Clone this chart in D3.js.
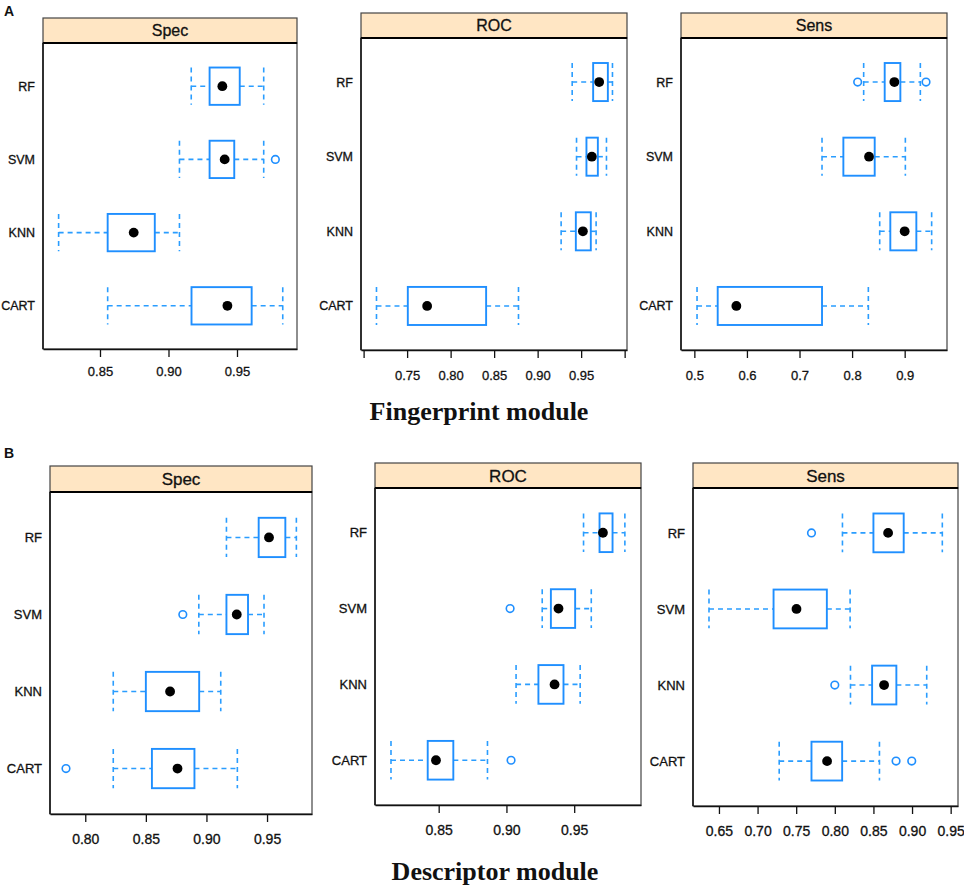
<!DOCTYPE html>
<html>
<head>
<meta charset="utf-8">
<script src="https://cdn.jsdelivr.net/npm/d3@7"></script>
<style>
  html, body { margin: 0; padding: 0; background: #fff; }
  svg { display: block; }
  .tick text { font-family: "Liberation Sans", Arial, sans-serif; fill: #111; stroke: #111; stroke-width: 0.3; }
  .ylab { font-family: "Liberation Sans", Arial, sans-serif; fill: #111; stroke: #111; stroke-width: 0.3; }
  .strip-label { font-family: "Liberation Sans", Arial, sans-serif; fill: #111; stroke: #111; stroke-width: 0.3; }
  .module-title { font-family: "Liberation Serif", "Times New Roman", serif; font-weight: bold; fill: #111; }
  .panel-tag { font-family: "Liberation Sans", Arial, sans-serif; font-weight: bold; fill: #111; }
</style>
</head>
<body>
<svg id="chart" width="964" height="888"></svg>
<script>
// -----------------------------------------------------------------------------
// Data: five-number summaries per model, [lowWhisker, q1, median, q3, highWhisker]
// Row order follows `models` (RF drawn on top).
// -----------------------------------------------------------------------------
const models = ['RF', 'SVM', 'KNN', 'CART'];

// Fingerprint module
const fpSpec = [[0.9166, 0.930, 0.9393, 0.952, 0.9695], [0.908, 0.930, 0.941, 0.948, 0.9695],
                [0.8198, 0.8556, 0.8746, 0.890, 0.908], [0.8556, 0.9168, 0.943, 0.9607, 0.9834]];
const fpSpecOut = [[], [0.978], [], []];
const fpRoc = [[0.9397, 0.9638, 0.9707, 0.9807, 0.986], [0.9447, 0.9561, 0.9623, 0.9692, 0.9791],
               [0.927, 0.9439, 0.952, 0.9611, 0.9672], [0.7148, 0.7508, 0.773, 0.8408, 0.878]];
const fpRocOut = [[], [], [], []];
const fpSens = [[0.822, 0.862, 0.8804, 0.8918, 0.9298], [0.7428, 0.7834, 0.8322, 0.843, 0.9013],
                [0.8525, 0.8727, 0.900, 0.9222, 0.9513], [0.5051, 0.5444, 0.5799, 0.7428, 0.8309]];
const fpSensOut = [[0.8106, 0.9406], [], [], []];

// Descriptor module
const dsSpec = [[0.9165, 0.9431, 0.9516, 0.9651, 0.9742], [0.8937, 0.9165, 0.925, 0.9343, 0.9475],
                [0.8231, 0.850, 0.870, 0.894, 0.9118], [0.8231, 0.855, 0.8761, 0.8901, 0.9255]];
const dsSpecOut = [[], [0.8805], [], [0.7841]];
const dsRoc = [[0.9569, 0.9687, 0.9712, 0.9783, 0.9874], [0.9264, 0.9328, 0.9384, 0.9507, 0.9626],
               [0.9071, 0.9236, 0.9355, 0.9421, 0.9544], [0.8148, 0.8419, 0.848, 0.8608, 0.886]];
const dsRocOut = [[], [0.9027], [], [0.9034]];
const dsSens = [[0.8099, 0.850, 0.869, 0.8892, 0.9392], [0.6371, 0.7207, 0.7504, 0.7897, 0.8198],
                [0.8203, 0.8483, 0.8638, 0.8797, 0.919], [0.728, 0.7698, 0.790, 0.8095, 0.8578]];
const dsSensOut = [[0.7698], [], [0.800], [0.8793, 0.8996]];

// Axis ranges and ticks
const fpSpecDomain = [0.8084, 0.9938];
const fpRocDomain  = [0.697, 1.0027];
const fpSensDomain = [0.4746, 0.9805];
const dsSpecDomain = [0.7709, 0.9871];
const dsRocDomain  = [0.803, 0.9993];
const dsSensDomain = [0.6164, 0.9595];

const fpSpecTicks = [0.85, 0.90, 0.95];
const fpSpecTickLabels = ['0.85', '0.90', '0.95'];
const fpRocTicks = [0.70, 0.75, 0.80, 0.85, 0.90, 0.95, 1.00];
const fpRocTickLabels = ['', '0.75', '0.80', '0.85', '0.90', '0.95', ''];
const fpSensTicks = [0.5, 0.6, 0.7, 0.8, 0.9];
const fpSensTickLabels = ['0.5', '0.6', '0.7', '0.8', '0.9'];
const dsSpecTicks = [0.80, 0.85, 0.90, 0.95];
const dsSpecTickLabels = ['0.80', '0.85', '0.90', '0.95'];
const dsRocTicks = [0.85, 0.90, 0.95];
const dsRocTickLabels = ['0.85', '0.90', '0.95'];
const dsSensTicks = [0.65, 0.70, 0.75, 0.80, 0.85, 0.90, 0.95];
const dsSensTickLabels = ['0.65', '0.70', '0.75', '0.80', '0.85', '0.90', '0.95'];

const metricNames = ['Spec', 'ROC', 'Sens'];
const moduleNames = ['Fingerprint module', 'Descriptor module'];
const panelTags = ['A', 'B'];

// -----------------------------------------------------------------------------
// Layout (pixel boxes of each panel: plot area below a strip)
// -----------------------------------------------------------------------------
const BOX_BLUE = '#1f8fff';
const WHISKER_BLUE = '#2a9dff';
const STRIP_FILL = '#ffe6c4';

const panels = [
  { stats: fpSpec, out: fpSpecOut, domain: fpSpecDomain, ticks: fpSpecTicks, labels: fpSpecTickLabels,
    title: metricNames[0], x0: 43, x1: 297, stripTop: 18, top: 43, bottom: 349, font: 12.5, tickFont: 13, stripFont: 16, pad: 10 },
  { stats: fpRoc, out: fpRocOut, domain: fpRocDomain, ticks: fpRocTicks, labels: fpRocTickLabels,
    title: metricNames[1], x0: 361, x1: 627, stripTop: 13, top: 38, bottom: 350, font: 12.5, tickFont: 13, stripFont: 16, pad: 13 },
  { stats: fpSens, out: fpSensOut, domain: fpSensDomain, ticks: fpSensTicks, labels: fpSensTickLabels,
    title: metricNames[2], x0: 681, x1: 947, stripTop: 13, top: 38, bottom: 350, font: 12.5, tickFont: 13, stripFont: 16, pad: 13 },
  { stats: dsSpec, out: dsSpecOut, domain: dsSpecDomain, ticks: dsSpecTicks, labels: dsSpecTickLabels,
    title: metricNames[0], x0: 50, x1: 312, stripTop: 466, top: 492, bottom: 814, font: 13, tickFont: 14, stripFont: 17, pad: 12 },
  { stats: dsRoc, out: dsRocOut, domain: dsRocDomain, ticks: dsRocTicks, labels: dsRocTickLabels,
    title: metricNames[1], x0: 375, x1: 641, stripTop: 463, top: 488, bottom: 805, font: 13, tickFont: 14, stripFont: 17, pad: 12 },
  { stats: dsSens, out: dsSensOut, domain: dsSensDomain, ticks: dsSensTicks, labels: dsSensTickLabels,
    title: metricNames[2], x0: 693, x1: 958, stripTop: 463, top: 488, bottom: 806, font: 13, tickFont: 14, stripFont: 17, pad: 12 },
];

const svg = d3.select('#chart');

panels.forEach(p => drawPanel(p));

// Panel tags and module titles
svg.append('text').attr('class', 'panel-tag').attr('x', 4).attr('y', 16)
  .attr('font-size', 14).text(panelTags[0]);
svg.append('text').attr('class', 'panel-tag').attr('x', 4).attr('y', 458)
  .attr('font-size', 14).text(panelTags[1]);

svg.append('text').attr('class', 'module-title')
  .attr('x', 479).attr('y', 420).attr('text-anchor', 'middle')
  .attr('font-size', 26).text(moduleNames[0]);
svg.append('text').attr('class', 'module-title')
  .attr('x', 495).attr('y', 880).attr('text-anchor', 'middle')
  .attr('font-size', 26).text(moduleNames[1]);

function drawPanel(p) {
  const g = svg.append('g');
  const x = d3.scaleLinear().domain(p.domain).range([p.x0, p.x1]);
  const y = d3.scalePoint().domain(models).range([p.top, p.bottom]).padding(0.59);
  const half = y.step() * 0.255;

  // strip
  g.append('rect')
    .attr('x', p.x0).attr('y', p.stripTop)
    .attr('width', p.x1 - p.x0).attr('height', p.top - p.stripTop)
    .attr('fill', STRIP_FILL).attr('stroke', '#444').attr('stroke-width', 1.2);
  g.append('text').attr('class', 'strip-label')
    .attr('x', (p.x0 + p.x1) / 2).attr('y', (p.stripTop + p.top) / 2 + p.stripFont * 0.36)
    .attr('text-anchor', 'middle').attr('font-size', p.stripFont).text(p.title);

  // plot frame
  g.append('rect')
    .attr('x', p.x0).attr('y', p.top)
    .attr('width', p.x1 - p.x0).attr('height', p.bottom - p.top)
    .attr('fill', '#fff').attr('stroke', '#444').attr('stroke-width', 1.2);
  g.append('line')
    .attr('x1', p.x0).attr('x2', p.x1).attr('y1', p.top).attr('y2', p.top)
    .attr('stroke', '#000').attr('stroke-width', 2);
  g.append('line')
    .attr('x1', p.x0).attr('x2', p.x0).attr('y1', p.top).attr('y2', p.bottom)
    .attr('stroke', '#111').attr('stroke-width', 1.5);

  // x axis
  const axis = d3.axisBottom(x)
    .tickValues(p.ticks)
    .tickFormat((d, i) => p.labels[i])
    .tickSize(8).tickSizeOuter(0).tickPadding(p.pad);
  const ax = g.append('g').attr('transform', `translate(0,${p.bottom})`).call(axis);
  ax.select('.domain').attr('stroke', '#111').attr('stroke-width', 1.5);
  ax.selectAll('.tick line').attr('stroke', '#111').attr('stroke-width', 1.3);
  ax.selectAll('.tick text').attr('font-size', p.tickFont);

  // y labels
  g.selectAll('text.ylab')
    .data(models)
    .join('text')
    .attr('class', 'ylab')
    .attr('x', p.x0 - 8)
    .attr('y', d => y(d))
    .attr('dy', '0.36em')
    .attr('text-anchor', 'end')
    .attr('font-size', p.font)
    .text(d => d);

  // boxes
  const rows = g.selectAll('g.bw')
    .data(models.map((m, i) => ({ m, s: p.stats[i], o: p.out[i] })))
    .join('g').attr('class', 'bw');

  // whiskers (dashed)
  rows.append('line')
    .attr('x1', d => x(d.s[0])).attr('x2', d => x(d.s[1]))
    .attr('y1', d => y(d.m)).attr('y2', d => y(d.m))
    .attr('stroke', WHISKER_BLUE).attr('stroke-width', 1.6).attr('stroke-dasharray', '5,4');
  rows.append('line')
    .attr('x1', d => x(d.s[3])).attr('x2', d => x(d.s[4]))
    .attr('y1', d => y(d.m)).attr('y2', d => y(d.m))
    .attr('stroke', WHISKER_BLUE).attr('stroke-width', 1.6).attr('stroke-dasharray', '5,4');
  // caps (dashed)
  [0, 4].forEach(k => {
    rows.append('line')
      .attr('x1', d => x(d.s[k])).attr('x2', d => x(d.s[k]))
      .attr('y1', d => y(d.m) - half).attr('y2', d => y(d.m) + half)
      .attr('stroke', WHISKER_BLUE).attr('stroke-width', 1.6).attr('stroke-dasharray', '5,4');
  });

  // box
  rows.append('rect')
    .attr('x', d => x(d.s[1]))
    .attr('y', d => y(d.m) - half)
    .attr('width', d => x(d.s[3]) - x(d.s[1]))
    .attr('height', half * 2)
    .attr('fill', 'none')
    .attr('stroke', BOX_BLUE).attr('stroke-width', 1.9);

  // median dot
  rows.append('circle')
    .attr('cx', d => x(d.s[2])).attr('cy', d => y(d.m))
    .attr('r', 4.9).attr('fill', '#000');

  // outliers
  rows.selectAll('circle.out')
    .data(d => d.o.map(v => ({ v, m: d.m })))
    .join('circle')
    .attr('class', 'out')
    .attr('cx', d => x(d.v)).attr('cy', d => y(d.m))
    .attr('r', 3.8).attr('fill', 'none')
    .attr('stroke', BOX_BLUE).attr('stroke-width', 1.6);
}
</script>
</body>
</html>
